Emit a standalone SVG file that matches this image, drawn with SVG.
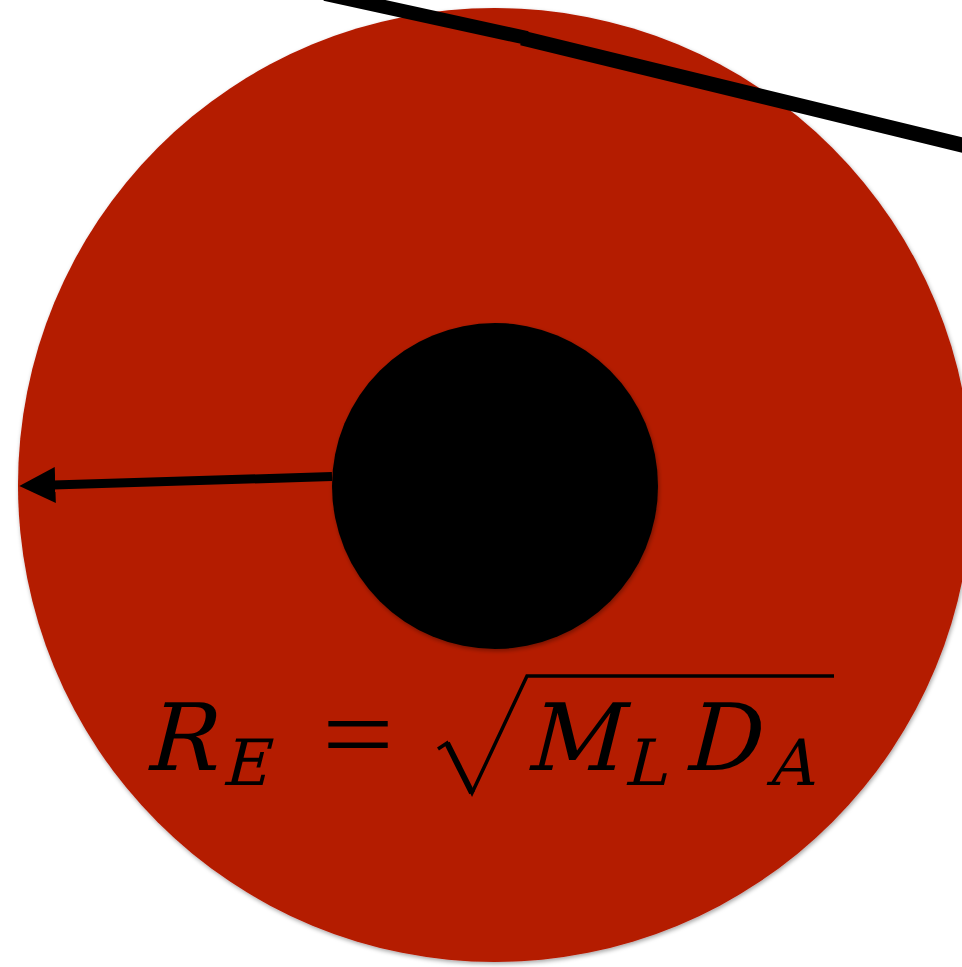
<svg xmlns="http://www.w3.org/2000/svg" width="962" height="967" viewBox="0 0 962 967">
  <style>
    .math { font-family: 'DejaVu Serif', 'Liberation Serif', serif; font-style: normal; fill: #000; }
    .rm { font-family: 'Liberation Serif', 'DejaVu Serif', serif; fill: #000; }
    .conn { stroke: #000; fill: none; }
  </style>
  <defs>
    <filter id="sh" x="-5%" y="-5%" width="110%" height="110%">
      <feDropShadow dx="1" dy="2" stdDeviation="2" flood-color="#000" flood-opacity="0.35"/>
    </filter>
    <marker id="arrow" markerUnits="userSpaceOnUse" markerWidth="36" markerHeight="36" viewBox="0 0 35 35" refX="10" refY="17.5" orient="auto">
      <path d="M0,0 L35,17.5 L0,35 Z" fill="#000"/>
    </marker>
  </defs>
  <rect width="962" height="967" fill="#fff"/>
  <g id="outer-circle">
    <circle cx="495" cy="485" r="477" fill="#B41A00" filter="url(#sh)"/>
  </g>
  <g id="inner-circle">
    <circle cx="495" cy="486" r="163" fill="#000" filter="url(#sh)"/>
  </g>
  <g id="connectors">
    <line class="conn" x1="332" y1="476.5" x2="45" y2="485.3" stroke-width="9" marker-end="url(#arrow)"/>
    <line class="conn" x1="325" y1="-6" x2="527" y2="38" stroke-width="14"/>
    <line class="conn" x1="522" y1="38" x2="966" y2="146" stroke-width="15"/>
  </g>
  <g id="formula">
    <text class="math" transform="translate(143,770) skewX(-14)" font-size="93">R</text>
    <text class="math" transform="translate(221,785) skewX(-14)" font-size="64">E</text>
    <text class="rm" x="322" y="770" font-size="108" textLength="72" lengthAdjust="spacingAndGlyphs">=</text>
    <path d="M438,749 L447,743 L472,793 L527,676 L834,676" fill="none" stroke="#000" stroke-width="3.5" stroke-linejoin="miter"/>
    <path d="M447,743 L472,793" fill="none" stroke="#000" stroke-width="6"/>
    <text class="math" transform="translate(524,770) skewX(-14)" font-size="93">M</text>
    <text class="math" transform="translate(623,785) skewX(-14)" font-size="64">L</text>
    <text class="math" transform="translate(682,770) skewX(-14)" font-size="93">D</text>
    <text class="math" transform="translate(767,785) skewX(-14)" font-size="64">A</text>
  </g>
</svg>
